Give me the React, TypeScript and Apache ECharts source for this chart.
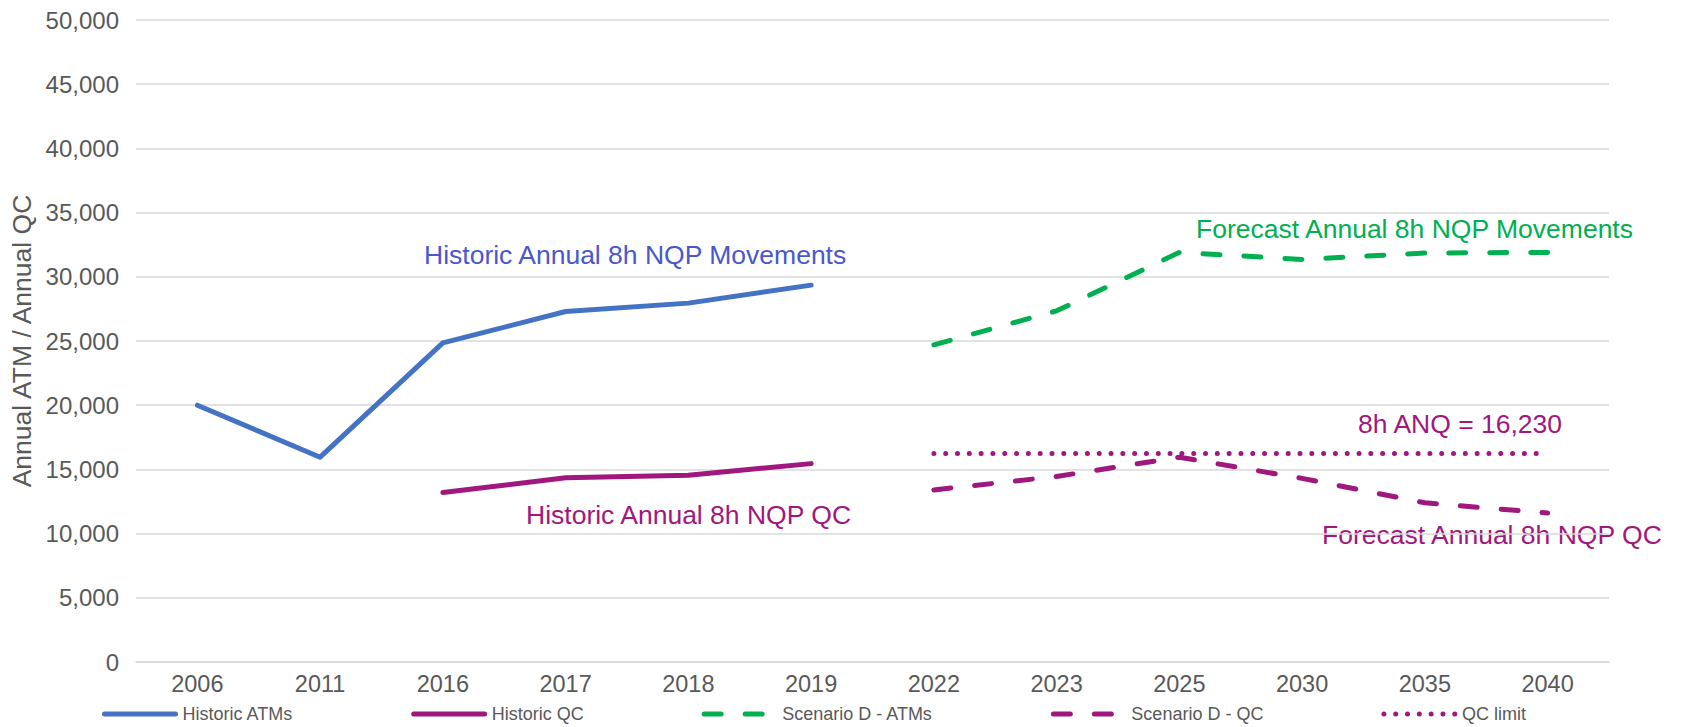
import React, { useEffect, useRef } from "react";
import * as echarts from "echarts";

const categories = ["2006", "2011", "2016", "2017", "2018", "2019", "2022", "2023", "2025", "2030", "2035", "2040"];
const historicATMs = [20000, 15950, 24850, 27300, 27950, 29350, null, null, null, null, null, null];
const historicQC = [null, null, 13200, 14350, 14550, 15450, null, null, null, null, null, null];
const scenarioATMs = [null, null, null, null, null, null, 24700, 27350, 31900, 31350, 31850, 31900];
const scenarioQC = [null, null, null, null, null, null, 13400, 14450, 15950, 14300, 12400, 11600];
const qcLimit = [null, null, null, null, null, null, 16230, 16230, 16230, 16230, 16230, 16230];

const BLUE = "#4472C4";
const BLUE_TEXT = "#4A58CC";
const PURPLE = "#A0177D";
const GREEN = "#00B050";
const GREY = "#595959";
const FONT = "'Liberation Sans', Arial, Helvetica, sans-serif";

const DASH = [17, 24];
const DOT = [0.01, 11.8];

export default function App() {
  const ref = useRef<HTMLDivElement>(null);
  useEffect(() => {
    if (!ref.current) return;
    const chart = echarts.init(ref.current, null, { renderer: "svg" });
    const mk = (name: string, data: any[], color: string, type: any) => ({
      name,
      type: "line",
      data,
      symbol: "none",
      showSymbol: false,
      connectNulls: false,
      lineStyle: { color, width: 5, type, cap: "round", join: "round" },
      itemStyle: { color },
    });
    const legItem = (name: string, color: string, type: any) => ({
      name,
      itemStyle: { opacity: 0 },
      lineStyle: { color, width: 5, type, cap: "round", join: "round" },
    });
    chart.setOption({
      animation: false,
      backgroundColor: "#ffffff",
      textStyle: { fontFamily: FONT },
      grid: { left: 136, right: 72, top: 20, bottom: 65 },
      xAxis: {
        type: "category",
        data: categories,
        boundaryGap: true,
        axisLine: { show: true, lineStyle: { color: "#D9D9D9", width: 1.5 } },
        axisTick: { show: false },
        axisLabel: { color: GREY, fontSize: 23.5, margin: 10, fontFamily: FONT },
      },
      yAxis: {
        type: "value",
        min: 0,
        max: 50000,
        interval: 5000,
        axisLine: { show: false },
        axisTick: { show: false },
        splitLine: { lineStyle: { color: "#D9D9D9", width: 1.5 } },
        axisLabel: {
          color: GREY,
          fontSize: 24,
          margin: 17,
          fontFamily: FONT,
          formatter: (v: number) => v.toLocaleString("en-US"),
        },
      },
      legend: {
        left: 97,
        top: 700,
        padding: 5,
        itemWidth: 71,
        itemHeight: 16,
        itemGap: 118,
        lineStyle: { width: 5, cap: "round" },
        itemStyle: { opacity: 0 },
        textStyle: { color: GREY, fontSize: 18, lineHeight: 18, fontFamily: FONT, padding: [0, 0, 0, 2] },
        data: [
          legItem("Historic ATMs", BLUE, "solid"),
          legItem("Historic QC", PURPLE, "solid"),
          legItem("Scenario D - ATMs", GREEN, DASH),
          legItem("Scenario D - QC", PURPLE, DASH),
          legItem("QC limit", PURPLE, DOT),
        ],
      },
      series: [
        mk("Historic ATMs", historicATMs, BLUE, "solid"),
        mk("Historic QC", historicQC, PURPLE, "solid"),
        mk("Scenario D - ATMs", scenarioATMs, GREEN, DASH),
        mk("Scenario D - QC", scenarioQC, PURPLE, DASH),
        mk("QC limit", qcLimit, PURPLE, DOT),
      ],
      graphic: [
        {
          type: "text",
          x: 22,
          y: 341,
          rotation: Math.PI / 2,
          style: {
            text: "Annual ATM / Annual QC",
            fill: GREY,
            font: `26.5px ${FONT}`,
            align: "center",
            verticalAlign: "middle",
          },
        },
        {
          type: "text",
          x: 424,
          y: 255,
          style: { text: "Historic Annual 8h NQP Movements", fill: BLUE_TEXT, font: `26.5px ${FONT}`, verticalAlign: "middle" },
        },
        {
          type: "text",
          x: 526,
          y: 515,
          style: { text: "Historic Annual 8h NQP QC", fill: PURPLE, font: `26.5px ${FONT}`, verticalAlign: "middle" },
        },
        {
          type: "text",
          x: 1196,
          y: 229,
          style: { text: "Forecast Annual 8h NQP Movements", fill: GREEN, font: `26.5px ${FONT}`, verticalAlign: "middle" },
        },
        {
          type: "text",
          x: 1358,
          y: 424,
          style: { text: "8h ANQ = 16,230", fill: PURPLE, font: `26.5px ${FONT}`, verticalAlign: "middle" },
        },
        {
          type: "text",
          x: 1322,
          y: 535,
          style: { text: "Forecast Annual 8h NQP QC", fill: PURPLE, font: `26.5px ${FONT}`, verticalAlign: "middle" },
        },
      ],
    });
    return () => chart.dispose();
  }, []);
  return (
    <div
      ref={ref}
      style={{ position: "fixed", left: 0, top: 0, width: 1681, height: 727, background: "#fff" }}
    />
  );
}
